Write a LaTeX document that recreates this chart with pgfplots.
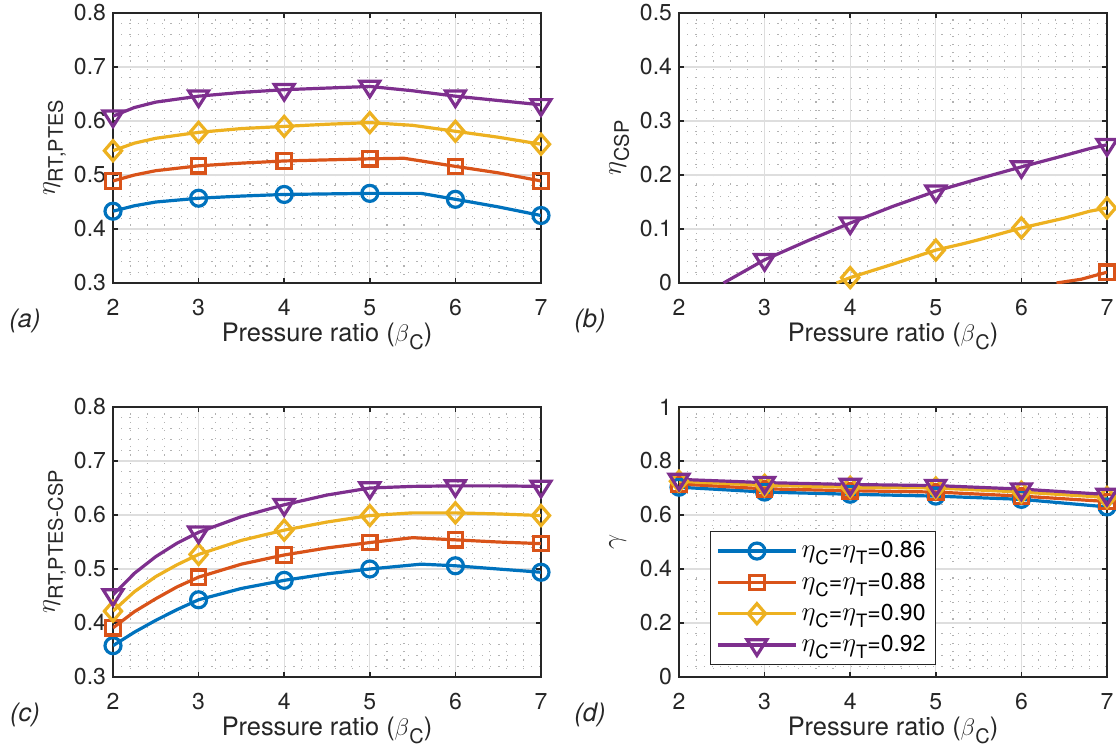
\documentclass[border=0pt]{standalone}
\usepackage{amsmath}
\usepackage{graphicx}
\usepackage{fontspec}
\setmainfont{TeX Gyre Heros}
\usepackage{pgfplots}
\pgfplotsset{compat=1.18}

\definecolor{mblue}{RGB}{0,114,189}
\definecolor{morange}{RGB}{217,83,25}
\definecolor{myellow}{RGB}{237,177,32}
\definecolor{mpurple}{RGB}{126,47,142}
\definecolor{axgray}{RGB}{38,38,38}

\newcommand{\tickfont}{\fontsize{11.5pt}{13pt}\selectfont}
\newcommand{\labfont}{\fontsize{12.7pt}{15pt}\selectfont}
% MATLAB-like subscripts: fairly large, well lowered
\newcommand{\subL}[1]{\raisebox{-4pt}{\fontsize{10pt}{10pt}\selectfont #1}}
\newcommand{\subT}[1]{\raisebox{-3.6pt}{\fontsize{9.2pt}{9pt}\selectfont #1}}
\newcommand{\etaB}{\scalebox{1.12}{$\eta$}}

\pgfplotsset{
  panel/.style={
    scale only axis, width=214pt, height=135pt,
    xmin=2, xmax=7, xtick={2,3,4,5,6,7},
    minor x tick num=4, minor y tick num=4,
    grid=both,
    major grid style={line width=0.6pt, color=black!13},
    minor grid style={line width=0.6pt, color=black!30, dash pattern=on 0.6pt off 3.5pt},
    tick align=inside, major tick length=2.5pt, minor tick length=0pt,
    axis line style={line width=0.8pt, color=axgray},
    every tick/.style={line width=0.8pt, color=axgray},
    /pgf/number format/assume math mode=true,
    ticklabel style={font=\tickfont, text=axgray},
    xticklabel style={anchor=base, yshift=-16pt},
    label style={font=\labfont, text=axgray},
    xlabel={Pressure ratio ($\beta$\subL{C})},
    xlabel style={at={(axis description cs:0.5,0)}, anchor=base, yshift=-29pt},
    ylabel style={at={(axis description cs:-0.136,0.5)}, anchor=base, rotate=0},
    every axis plot/.append style={line width=1.6pt},
    legend image code/.code={\draw[mark repeat=2,mark phase=2,#1]
      plot coordinates {(0pt,0pt) (19.5pt,0pt) (39pt,0pt)};},
  },
  sblue/.style={mblue, mark=o, mark size=4pt, mark options={solid, fill=white}},
  sorange/.style={morange, mark=square, mark size=3.6pt, mark options={solid, fill=white}},
  syellow/.style={myellow, mark=diamond, mark size=5pt, mark options={solid, fill=white, xscale=1.15}},
  spurple/.style={mpurple, mark=triangle, mark size=5.2pt, mark options={solid, fill=white, rotate=180, xscale=1.1}},
}

\begin{document}
\begin{tikzpicture}
\path[use as bounding box] (0,0) rectangle (558pt,-378pt);

% (a)
\begin{axis}[panel, at={(56.5pt,-141.5pt)}, anchor=south west,
  ymin=0.3, ymax=0.8, ytick={0.3,0.4,0.5,0.6,0.7,0.8},
  ylabel={\etaB\subL{RT,PTES}}]
\addplot[sblue, mark indices={1,4,6,8,10,12}] coordinates {
 (2,0.433) (2.25,0.443) (2.5,0.450) (3,0.457) (3.5,0.461) (4,0.464)
 (4.5,0.465) (5,0.466) (5.6,0.466) (6,0.455) (6.5,0.441) (7,0.425)};
\addplot[sorange, mark indices={1,4,6,8,10,12}] coordinates {
 (2,0.489) (2.25,0.500) (2.5,0.508) (3,0.517) (3.5,0.522) (4,0.526)
 (4.5,0.528) (5,0.530) (5.4,0.531) (6,0.516) (6.5,0.504) (7,0.489)};
\addplot[syellow, mark indices={1,4,6,8,10,12}] coordinates {
 (2,0.545) (2.25,0.559) (2.5,0.568) (3,0.579) (3.5,0.586) (4,0.590)
 (4.5,0.594) (5,0.597) (5.5,0.592) (6,0.581) (6.5,0.570) (7,0.557)};
\addplot[spurple, mark indices={1,4,6,8,10,12}] coordinates {
 (2,0.609) (2.25,0.625) (2.5,0.635) (3,0.646) (3.5,0.653) (4,0.658)
 (4.5,0.661) (5,0.664) (5.5,0.656) (6,0.646) (6.5,0.638) (7,0.630)};
\end{axis}

% (b)
\begin{axis}[panel, at={(339.5pt,-141.5pt)}, anchor=south west,
  ymin=0, ymax=0.5, ytick={0,0.1,0.2,0.3,0.4,0.5},
  ylabel={\etaB\subL{CSP}}]
\addplot[sorange, mark indices={3}] coordinates {
 (6.41,0) (6.7,0.007) (7,0.020)};
\addplot[syellow, mark indices={2,4,7,10}] coordinates {
 (3.84,0) (4,0.010) (4.5,0.035) (5,0.061) (5.3,0.072) (5.5,0.080)
 (6,0.102) (6.5,0.120) (6.8,0.133) (7,0.139)};
\addplot[spurple, mark indices={2,4,6,8,11}] coordinates {
 (2.52,0) (3,0.043) (3.5,0.078) (4,0.111) (4.5,0.142) (5,0.170)
 (5.5,0.193) (6,0.215) (6.5,0.236) (6.8,0.249) (7,0.256)};
\end{axis}

% (c)
\begin{axis}[panel, at={(56.5pt,-338.5pt)}, anchor=south west,
  ymin=0.3, ymax=0.8, ytick={0.3,0.4,0.5,0.6,0.7,0.8},
  ylabel={\etaB\subL{RT,PTES-CSP}}]
\addplot[sblue, mark indices={1,5,7,9,11,13}] coordinates {
 (2,0.358) (2.25,0.383) (2.5,0.405) (2.75,0.425) (3,0.443) (3.5,0.464)
 (4,0.479) (4.5,0.491) (5,0.500) (5.6,0.509) (6,0.506) (6.5,0.500) (7,0.494)};
\addplot[sorange, mark indices={1,5,7,9,11,13}] coordinates {
 (2,0.391) (2.25,0.421) (2.5,0.445) (2.75,0.467) (3,0.485) (3.5,0.509)
 (4,0.526) (4.5,0.539) (5,0.549) (5.5,0.558) (6,0.554) (6.5,0.550) (7,0.547)};
\addplot[syellow, mark indices={1,5,7,9,11,13}] coordinates {
 (2,0.422) (2.25,0.458) (2.5,0.486) (2.75,0.508) (3,0.527) (3.5,0.553)
 (4,0.572) (4.5,0.587) (5,0.599) (5.5,0.604) (6,0.604) (6.5,0.602) (7,0.599)};
\addplot[spurple, mark indices={1,5,7,9,11,13}] coordinates {
 (2,0.452) (2.25,0.492) (2.5,0.523) (2.75,0.548) (3,0.568) (3.5,0.597)
 (4,0.619) (4.5,0.637) (5,0.650) (5.5,0.653) (6,0.654) (6.5,0.654) (7,0.653)};
\end{axis}

% (d)
\begin{axis}[panel, at={(339.5pt,-338.5pt)}, anchor=south west,
  ymin=0, ymax=1, ytick={0,0.2,0.4,0.6,0.8,1},
  ylabel={\scalebox{1.12}{$\gamma$}},
  legend style={at={(0.072,0.044)}, anchor=south west, draw=axgray,
    line width=0.5pt, font=\tickfont, row sep=2pt, inner xsep=3pt,
    inner ysep=3pt, cells={anchor=west}}]
\addplot[sblue] coordinates {(2,0.703) (3,0.685) (4,0.677) (5,0.670) (6,0.658) (7,0.630)};
\addlegendentry{\etaB\subT{C}=\etaB\subT{T}=0.86}
\addplot[sorange] coordinates {(2,0.715) (3,0.697) (4,0.690) (5,0.685) (6,0.670) (7,0.650)};
\addlegendentry{\etaB\subT{C}=\etaB\subT{T}=0.88}
\addplot[syellow] coordinates {(2,0.725) (3,0.710) (4,0.703) (5,0.700) (6,0.685) (7,0.665)};
\addlegendentry{\etaB\subT{C}=\etaB\subT{T}=0.90}
\addplot[spurple] coordinates {(2,0.732) (3,0.720) (4,0.713) (5,0.709) (6,0.696) (7,0.676)};
\addlegendentry{\etaB\subT{C}=\etaB\subT{T}=0.92}
\end{axis}

\node[font=\labfont\itshape, text=axgray] at (12.5pt,-160.5pt) {(a)};
\node[font=\labfont\itshape, text=axgray] at (295pt,-160.5pt) {(b)};
\node[font=\labfont\itshape, text=axgray] at (12.5pt,-357.5pt) {(c)};
\node[font=\labfont\itshape, text=axgray] at (295pt,-357.5pt) {(d)};
\end{tikzpicture}
\end{document}
